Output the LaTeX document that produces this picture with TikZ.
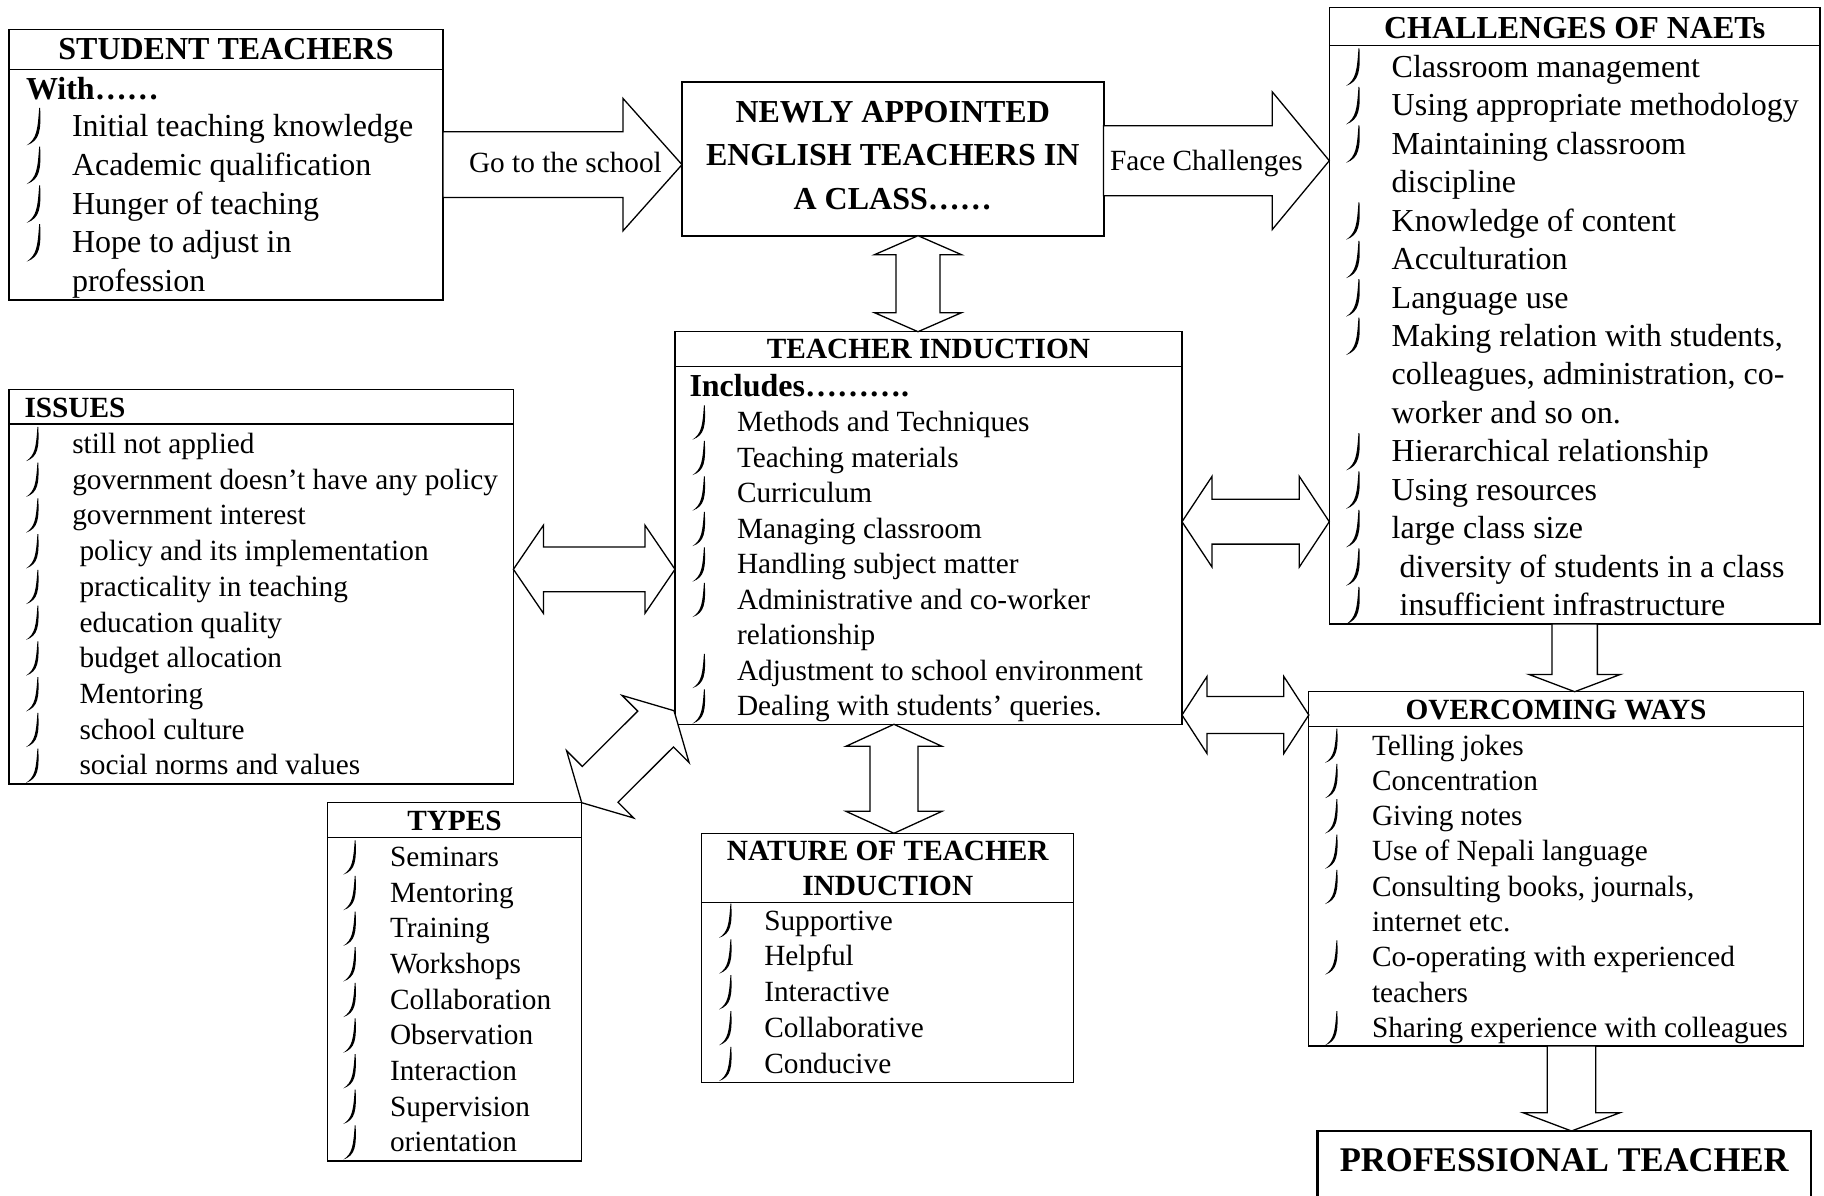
\documentclass[tikz,border=0pt]{standalone}
\usepackage{fontspec}
\setmainfont{Liberation Serif}
\usetikzlibrary{calc}
\tikzset{
  box/.style={draw, line width=1.3pt, inner sep=0pt, outer sep=0pt, anchor=north west},
  itm/.style={inner sep=0pt, outer sep=0pt},
  ttl/.style={inner sep=0pt, outer sep=0pt, font=\bfseries\fontsize{29.3}{35}\selectfont},
  ttlb/.style={inner sep=0pt, outer sep=0pt, font=\bfseries\fontsize{32}{38}\selectfont},
  lbl/.style={inner sep=0pt, outer sep=0pt, font=\fontsize{29.3}{35}\selectfont, anchor=base west},
  blk/.style={draw, line width=1.3pt, fill=white, line join=miter},
  divl/.style={line width=1.3pt},
  pics/bul/.style={code={\fill (0.42*#1,-0.9*#1) .. controls (0.45*#1,-0.2*#1) and (0.42*#1,0.12*#1) .. (0,0.27*#1) .. controls (0.31*#1,0.06*#1) and (0.34*#1,-0.2*#1) .. (0.39*#1,-0.9*#1) -- cycle;}}
}
% list: name, font size, bullet x, text x, first baseline, step, items
\newcommand\blist[7]{%
  \foreach \itx/\ibl [count=\i from 0] in {#7}{
    \pgfmathsetmacro\yy{#5+\i*#6}
    \node[itm, font=\fontsize{#2}{#2}\selectfont, anchor=base west] (#1-\i) at (#4,\yy) {\itx};
    \ifnum\ibl=1 \pic at (#3,\yy) {bul=#2};\fi
  }}
% single block arrow: from, to, shaft half width, head half width, head length
\newcommand\sarrow[5]{%
  \coordinate (pp) at ($(#2)!#5!(#1)$);
  \draw[blk] ($(#1)!#3!90:(#2)$) -- ($(pp)!#3!90:(#2)$) -- ($(pp)!#4!90:(#2)$) -- (#2)
    -- ($(pp)!#4!-90:(#2)$) -- ($(pp)!#3!-90:(#2)$) -- ($(#1)!#3!-90:(#2)$) -- cycle;}
% double block arrow
\newcommand\darrow[5]{%
  \coordinate (pa) at ($(#1)!#5!(#2)$);
  \coordinate (pb) at ($(#2)!#5!(#1)$);
  \draw[blk] (#1) -- ($(pa)!#4!90:(#2)$) -- ($(pa)!#3!90:(#2)$) -- ($(pb)!#3!-90:(#1)$)
    -- ($(pb)!#4!-90:(#1)$) -- (#2) -- ($(pb)!#4!90:(#1)$) -- ($(pb)!#3!90:(#1)$)
    -- ($(pa)!#3!-90:(#2)$) -- ($(pa)!#4!-90:(#2)$) -- cycle;}
\begin{document}
\begin{tikzpicture}[x=1pt,y=-1pt]
\useasboundingbox (0,0) rectangle (1824,1196);
\clip (0,0) rectangle (1824,1196);

% ---------- boxes ----------
\node[box, minimum width=434pt, minimum height=270.7pt] (st) at (9,29.3) {};
\draw[divl] (9,69.3) -- (443,69.3);
\node[box, line width=2pt, minimum width=421.5pt, minimum height=154pt] (nw) at (682,81.7) {};
\node[box, minimum width=490.7pt, minimum height=616.7pt] (ch) at (1329.3,7.3) {};
\draw[divl] (1329.3,45.7) -- (1820,45.7);
\node[box, minimum width=507pt, minimum height=392.6pt] (ti) at (675,331.7) {};
\draw[divl] (675,366.7) -- (1182,366.7);
\node[box, minimum width=504.4pt, minimum height=394.7pt] (iss) at (9,389.3) {};
\draw[divl] (9,424) -- (513.4,424);
\node[box, minimum width=254.4pt, minimum height=358.3pt] (ty) at (327.3,802.7) {};
\draw[divl] (327.3,837.3) -- (581.7,837.3);
\node[box, minimum width=371.9pt, minimum height=249pt] (na) at (701.8,833.3) {};
\draw[divl] (701.8,902.3) -- (1073.7,902.3);
\node[box, minimum width=494.4pt, minimum height=354.3pt] (ow) at (1308.8,691.7) {};
\draw[divl] (1308.8,726.7) -- (1803.2,726.7);
\node[box, line width=2.4pt, minimum width=493.4pt, minimum height=100pt] (pt) at (1317.5,1131) {};

% ---------- arrows ----------
\coordinate (a7s) at (st.east);
\coordinate (a7e) at (st.east -| nw.west);
\sarrow{a7s}{a7e}{32.8pt}{66.2pt}{59pt}
\coordinate (a8s) at ($(nw.east)+(0,2)$);
\coordinate (a8e) at (a8s -| ch.west);
\sarrow{a8s}{a8e}{35pt}{68.8pt}{57pt}
\coordinate (a1s) at ($(nw.south)+(25.25,0)$);
\coordinate (a1e) at (a1s |- ti.north);
\darrow{a1s}{a1e}{22pt}{43.5pt}{19pt}
\coordinate (a2e) at ($(na.north)+(6.2,0)$);
\coordinate (a2s) at (a2e |- ti.south);
\darrow{a2s}{a2e}{24pt}{48pt}{22pt}
\coordinate (a3s) at ($(ti.east)+(0,-6.3)$);
\coordinate (a3e) at (a3s -| ch.west);
\darrow{a3s}{a3e}{22.4pt}{45.3pt}{30pt}
\coordinate (a4e) at ($(ow.north west)+(0,23.3)$);
\coordinate (a4s) at (a4e -| ti.east);
\darrow{a4s}{a4e}{18.5pt}{38.5pt}{25pt}
\coordinate (a5s) at ($(iss.east)+(0,-17.35)$);
\coordinate (a5e) at (a5s -| ti.west);
\darrow{a5s}{a5e}{22.4pt}{44pt}{30pt}
\coordinate (a6s) at (ty.north east);
\coordinate (a6e) at ($(ti.south west)+(-1,-13.6)$);
\darrow{a6s}{a6e}{25.3pt}{47.5pt}{26pt}
\coordinate (a9s) at (ch.south);
\coordinate (a9e) at (a9s |- ow.north);
\sarrow{a9s}{a9e}{22.7pt}{45.8pt}{17.3pt}
\coordinate (a10s) at ($(ow.south)+(15.5,0)$);
\coordinate (a10e) at (a10s |- pt.north);
\sarrow{a10s}{a10e}{24.3pt}{48.5pt}{18.3pt}

\node[lbl] (go) at (469,172) {Go to the school};
\node[lbl] (face) at (1110,170.7) {Face Challenges};

% ---------- texts ----------
\node[ttlb, anchor=base] (st-t) at (226,59.3) {STUDENT TEACHERS};
\node[ttlb, anchor=base west] (st-w) at (26,99.5) {With……};
\blist{st}{32}{26.7}{72}{136.7}{38.75}{Initial teaching knowledge/1, Academic qualification/1, Hunger of teaching/1, Hope to adjust in/1, profession/0}

\node[ttlb, anchor=base] (nw-1) at (892.75,122.5) {NEWLY APPOINTED};
\node[ttlb, anchor=base] (nw-2) at (892.75,166) {ENGLISH TEACHERS IN};
\node[ttlb, anchor=base] (nw-3) at (892.75,209.5) {A CLASS……};

\node[ttlb, anchor=base] (ch-t) at (1574.65,38.3) {CHALLENGES OF NAETs};
\blist{ch}{32}{1346}{1391.7}{77.3}{38.45}{Classroom management/1, Using appropriate methodology/1, Maintaining classroom/1, discipline/0, Knowledge of content/1, Acculturation/1, Language use/1, {Making relation with students,}/1, {colleagues, administration, co-}/0, worker and so on./0, Hierarchical relationship/1, Using resources/1, large class size/1, {\hspace*{8pt}diversity of students in a class}/1, {\hspace*{8pt}insufficient infrastructure}/1}

\node[ttl, anchor=base] (ti-t) at (928.5,358.3) {TEACHER INDUCTION};
\node[ttlb, anchor=base west] (ti-w) at (689.5,396) {Includes……….};
\blist{ti}{29.3}{692.5}{737}{431.7}{35.5}{Methods and Techniques/1, Teaching materials/1, Curriculum/1, Managing classroom/1, Handling subject matter/1, Administrative and co-worker/1, relationship/0, Adjustment to school environment/1, Dealing with students’ queries./1}

\node[ttl, anchor=base west] (iss-t) at (24.5,417.3) {ISSUES};
\blist{iss}{29.3}{26}{72.3}{453.3}{35.74}{still not applied/1, government doesn’t have any policy/1, government interest/1, {\hspace*{7.2pt}policy and its implementation}/1, {\hspace*{7.2pt}practicality in teaching}/1, {\hspace*{7.2pt}education quality}/1, {\hspace*{7.2pt}budget allocation}/1, {\hspace*{7.2pt}Mentoring}/1, {\hspace*{7.2pt}school culture}/1, {\hspace*{7.2pt}social norms and values}/1}

\node[ttl, anchor=base] (ty-t) at (454.5,830) {TYPES};
\blist{ty}{29.3}{343.3}{390}{866.7}{35.63}{Seminars/1, Mentoring/1, Training/1, Workshops/1, Collaboration/1, Observation/1, Interaction/1, Supervision/1, orientation/1}

\node[ttl, anchor=base] (na-t1) at (887.75,860.7) {NATURE OF TEACHER};
\node[ttl, anchor=base] (na-t2) at (887.75,895) {INDUCTION};
\blist{na}{29.3}{719}{764.3}{930}{35.8}{Supportive/1, Helpful/1, Interactive/1, Collaborative/1, Conducive/1}

\node[ttl, anchor=base] (ow-t) at (1556,719.3) {OVERCOMING WAYS};
\blist{ow}{29.3}{1325}{1372}{755}{35.3}{Telling jokes/1, Concentration/1, Giving notes/1, Use of Nepali language/1, {Consulting books, journals,}/1, internet etc./0, Co-operating with experienced/1, teachers/0, Sharing experience with colleagues/1}

\node[inner sep=0pt, font=\bfseries\fontsize{34.6}{40}\selectfont, anchor=base] (pt-t) at (1564.2,1171.7) {PROFESSIONAL TEACHER};
\end{tikzpicture}
\end{document}
